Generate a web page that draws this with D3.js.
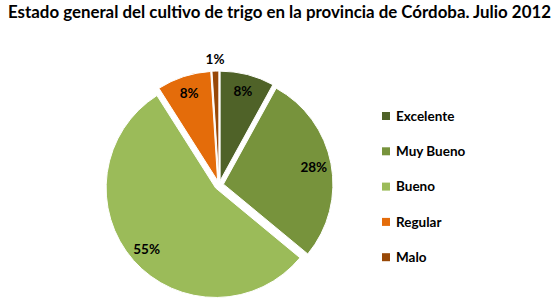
<!DOCTYPE html>
<html>
<head>
<meta charset="utf-8">
<script src="https://cdn.jsdelivr.net/npm/d3@7"></script>
<style>
  body { margin: 0; background: #fff; }
  text { font-family: Lato, "Open Sans", sans-serif; font-weight: bold; }
</style>
</head>
<body>
<div id="chart"></div>
<script>
var categories = ['Excelente', 'Muy Bueno', 'Bueno', 'Regular', 'Malo'];
var values = [8, 28, 55, 8, 1];
var labels = ['8%', '28%', '55%', '8%', '1%'];
var colors = ['#4F6228', '#77933C', '#9BBB59', '#E46C0A', '#984807'];
var title = 'Estado general del cultivo de trigo en la provincia de Córdoba. Julio 2012';

var svg_w = 559, svg_h = 303;
var cx = 219, cy = 185, radius = 109.5, explode = 4.5;

var svg = d3.select('#chart').append('svg')
    .attr('width', svg_w)
    .attr('height', svg_h);

// title, squeezed to the width it takes in the picture
var t = svg.append('text')
    .attr('x', svg_w / 2)
    .attr('y', 18)
    .attr('text-anchor', 'middle')
    .attr('font-size', 15.5)
    .attr('fill', '#000')
    .text(title);
var tw = t.node().getComputedTextLength();
t.attr('font-size', 15.5 * 543 / tw);

var pie = d3.pie().sort(null).value(function(d) { return d; });
var arcs = pie(values);

var arc = d3.arc().innerRadius(0).outerRadius(radius);
var label_arc = d3.arc().innerRadius(radius * 0.84).outerRadius(radius * 0.84);
var outer_label_arc = d3.arc().innerRadius(radius * 1.11).outerRadius(radius * 1.11);

var g_pie = svg.append('g')
    .attr('transform', 'translate(' + cx + ',' + cy + ')');

var slices = g_pie.selectAll('g.slice')
  .data(arcs)
  .enter().append('g')
    .attr('class', 'slice')
    .attr('transform', function(d) {
      var mid = (d.startAngle + d.endAngle) / 2;
      return 'translate(' + (explode * Math.sin(mid)) + ',' + (-explode * Math.cos(mid)) + ')';
    });

slices.append('path')
    .attr('d', arc)
    .attr('fill', function(d, i) { return colors[i]; })
    .attr('stroke', '#fff')
    .attr('stroke-width', 1);

slices.append('text')
    .attr('transform', function(d) {
      var c = (d.value < 3 ? outer_label_arc : label_arc).centroid(d);
      return 'translate(' + c[0] + ',' + c[1] + ')';
    })
    .attr('text-anchor', 'middle')
    .attr('dy', '0.35em')
    .attr('font-size', 13.5)
    .attr('fill', '#000')
    .text(function(d, i) { return labels[i]; });

// legend
var g_legend = svg.append('g')
    .attr('transform', 'translate(382,116)');

var rows = g_legend.selectAll('g.row')
  .data(categories)
  .enter().append('g')
    .attr('class', 'row')
    .attr('transform', function(d, i) { return 'translate(0,' + (i * 35.3) + ')'; });

rows.append('rect')
    .attr('x', 0)
    .attr('y', -4)
    .attr('width', 8)
    .attr('height', 8)
    .attr('fill', function(d, i) { return colors[i]; });

rows.append('text')
    .attr('x', 14)
    .attr('dy', '0.35em')
    .attr('font-size', 13.5)
    .attr('fill', '#000')
    .text(function(d) { return d; });
</script>
</body>
</html>
